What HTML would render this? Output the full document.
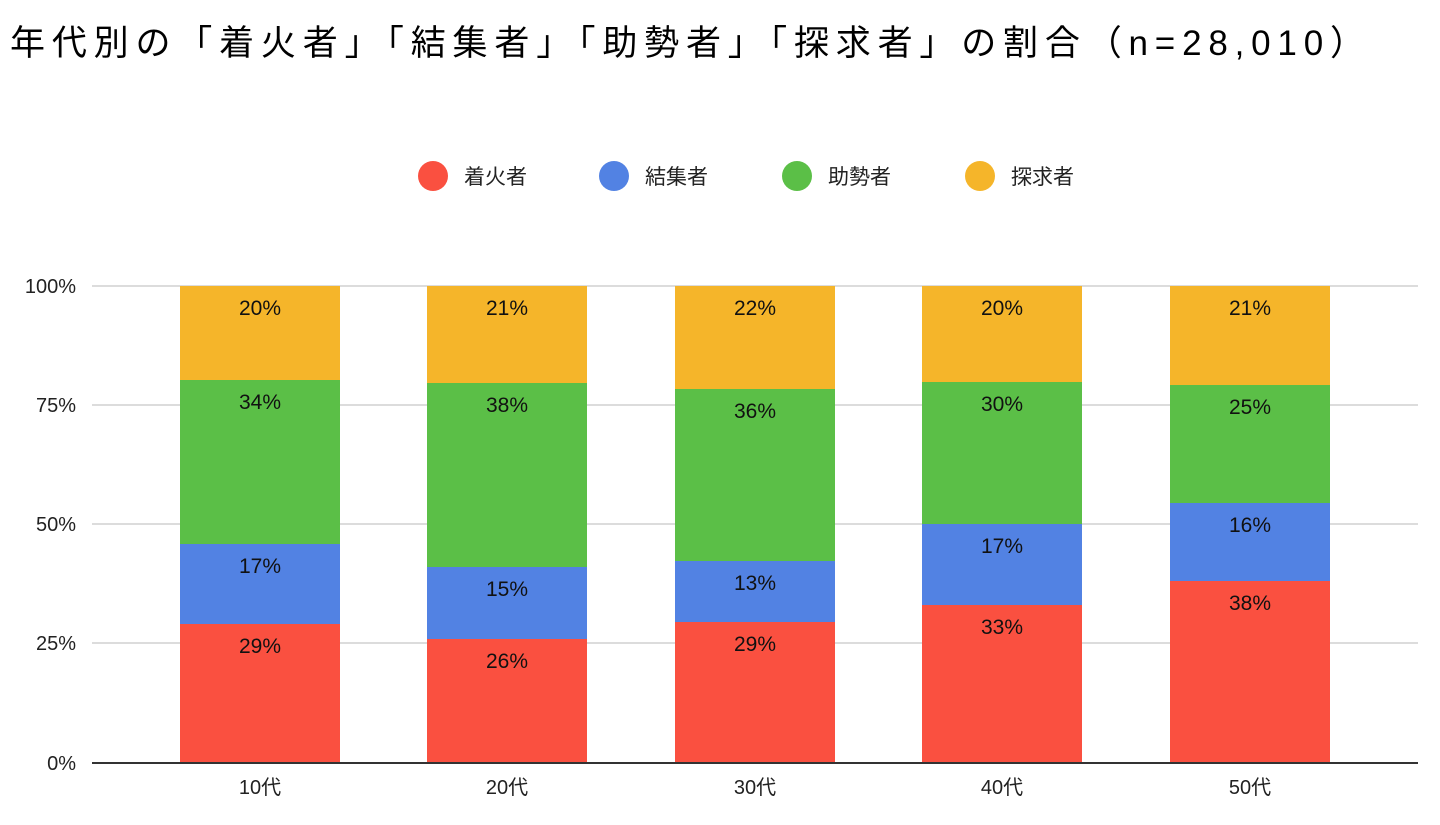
<!DOCTYPE html>
<html><head><meta charset="utf-8"><style>
body{margin:0;background:#fff;width:1440px;height:820px;overflow:hidden;font-family:"Liberation Sans","Noto Sans CJK JP",sans-serif}
</style></head><body>
<svg width="1440" height="820" xmlns="http://www.w3.org/2000/svg" font-family="Liberation Sans, Noto Sans CJK JP, sans-serif">
<text x="10" y="55" font-size="35" fill="#000" textLength="1355" lengthAdjust="spacing">年代別の「着火者」「結集者」「助勢者」「探求者」の割合（n=28,010）</text>
<g font-size="21" fill="#222">
<circle cx="433" cy="176" r="15" fill="#fa5040"/><text x="464" y="184">着火者</text>
<circle cx="614" cy="176" r="15" fill="#5282e3"/><text x="645" y="184">結集者</text>
<circle cx="797" cy="176" r="15" fill="#5bbf47"/><text x="828" y="184">助勢者</text>
<circle cx="980" cy="176" r="15" fill="#f5b52a"/><text x="1011" y="184">探求者</text>
</g>
<g stroke="#d0d0d0" stroke-width="1.5">
<line x1="92" x2="1418" y1="286" y2="286"/><line x1="92" x2="1418" y1="405" y2="405"/>
<line x1="92" x2="1418" y1="524" y2="524"/><line x1="92" x2="1418" y1="643" y2="643"/>
</g>
<g font-size="20" fill="#222" text-anchor="end">
<text x="76" y="293">100%</text><text x="76" y="412">75%</text><text x="76" y="531">50%</text><text x="76" y="650">25%</text><text x="76" y="770">0%</text>
</g>
<g>
<rect x="180" y="286" width="160" height="94" fill="#f5b52a"/><rect x="180" y="380" width="160" height="164" fill="#5bbf47"/><rect x="180" y="544" width="160" height="80" fill="#5282e3"/><rect x="180" y="624" width="160" height="139" fill="#fa5040"/>
<rect x="427" y="286" width="160" height="97" fill="#f5b52a"/><rect x="427" y="383" width="160" height="184" fill="#5bbf47"/><rect x="427" y="567" width="160" height="72" fill="#5282e3"/><rect x="427" y="639" width="160" height="124" fill="#fa5040"/>
<rect x="675" y="286" width="160" height="103" fill="#f5b52a"/><rect x="675" y="389" width="160" height="172" fill="#5bbf47"/><rect x="675" y="561" width="160" height="61" fill="#5282e3"/><rect x="675" y="622" width="160" height="141" fill="#fa5040"/>
<rect x="922" y="286" width="160" height="96" fill="#f5b52a"/><rect x="922" y="382" width="160" height="142" fill="#5bbf47"/><rect x="922" y="524" width="160" height="81" fill="#5282e3"/><rect x="922" y="605" width="160" height="158" fill="#fa5040"/>
<rect x="1170" y="286" width="160" height="99" fill="#f5b52a"/><rect x="1170" y="385" width="160" height="118" fill="#5bbf47"/><rect x="1170" y="503" width="160" height="78" fill="#5282e3"/><rect x="1170" y="581" width="160" height="182" fill="#fa5040"/>
</g>
<g font-size="21" fill="#111" text-anchor="middle">
<text x="260" y="315">20%</text><text x="260" y="409">34%</text><text x="260" y="573">17%</text><text x="260" y="653">29%</text>
<text x="507" y="315">21%</text><text x="507" y="412">38%</text><text x="507" y="596">15%</text><text x="507" y="668">26%</text>
<text x="755" y="315">22%</text><text x="755" y="418">36%</text><text x="755" y="590">13%</text><text x="755" y="651">29%</text>
<text x="1002" y="315">20%</text><text x="1002" y="411">30%</text><text x="1002" y="553">17%</text><text x="1002" y="634">33%</text>
<text x="1250" y="315">21%</text><text x="1250" y="414">25%</text><text x="1250" y="532">16%</text><text x="1250" y="610">38%</text>
</g>
<line x1="92" x2="1418" y1="763" y2="763" stroke="#333" stroke-width="2"/>
<g font-size="20" fill="#222" text-anchor="middle">
<text x="260" y="794">10代</text><text x="507" y="794">20代</text><text x="755" y="794">30代</text><text x="1002" y="794">40代</text><text x="1250" y="794">50代</text>
</g>
</svg>
</body></html>
